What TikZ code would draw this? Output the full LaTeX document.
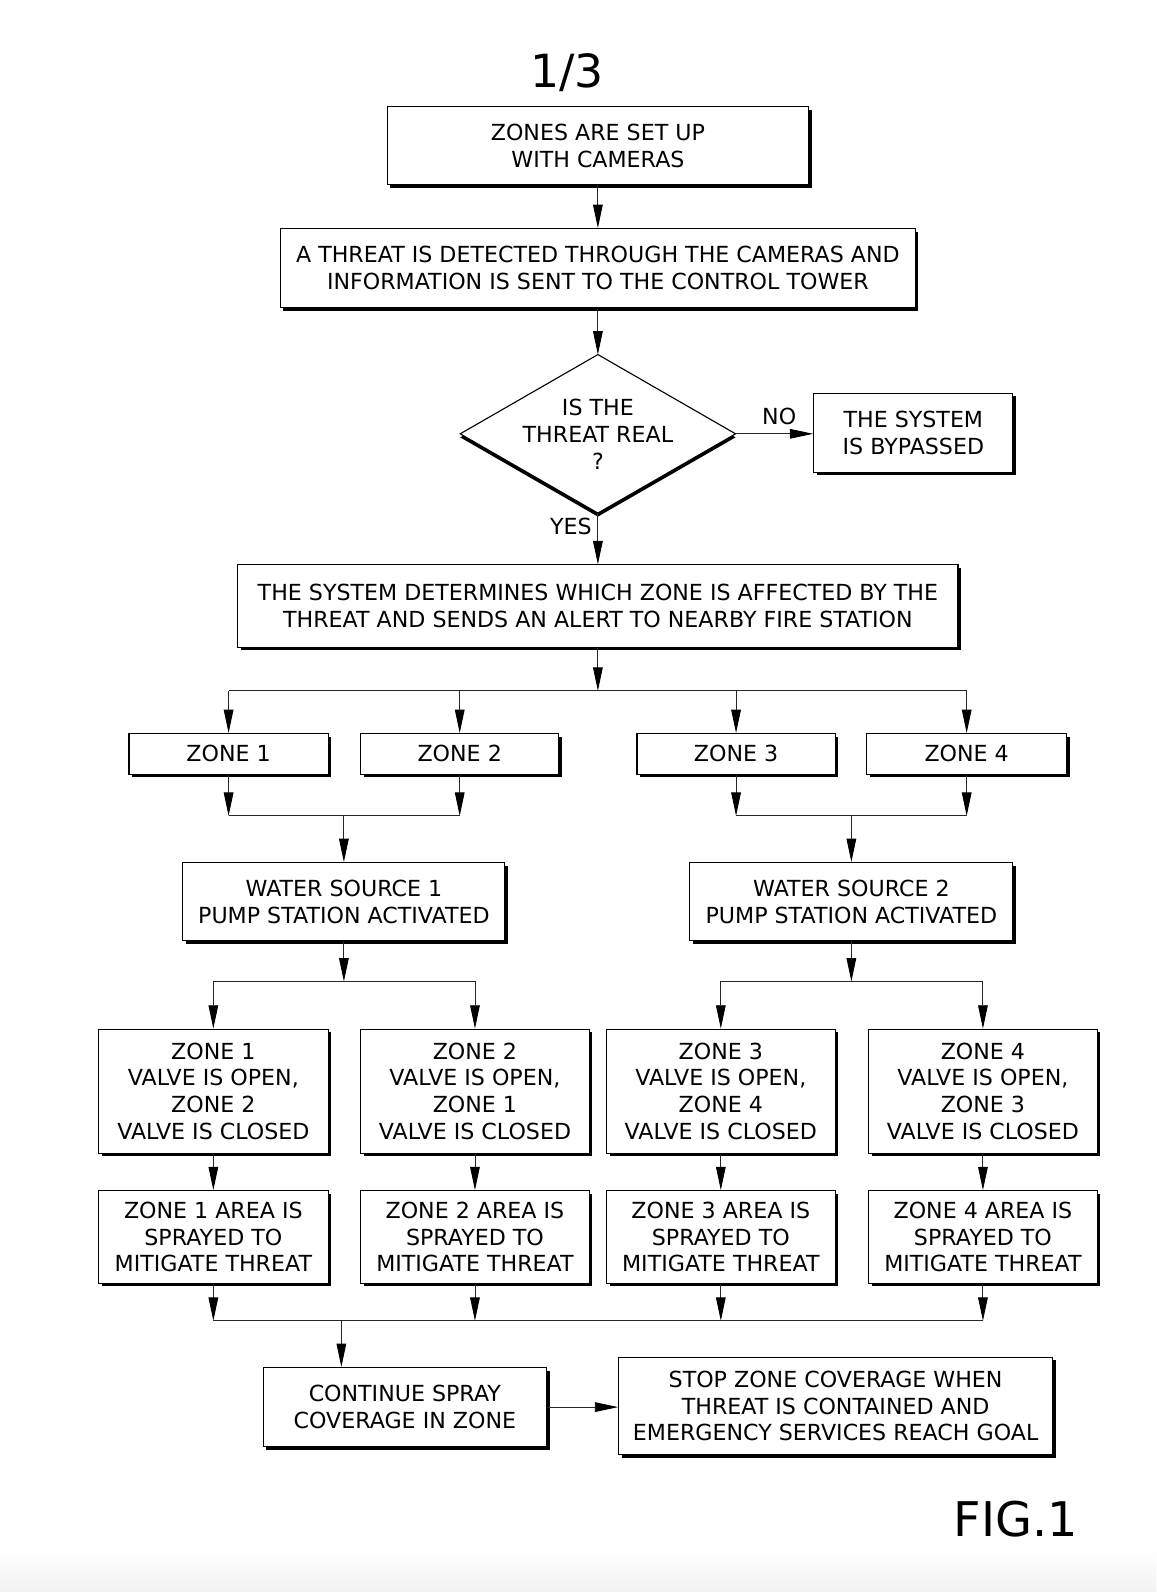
\documentclass[tikz,border=0pt]{standalone}
\usepackage{fontspec}
\setmainfont{DejaVu Sans}
\usetikzlibrary{arrows.meta,shapes.geometric,shadows,calc}
\begin{document}
\begin{tikzpicture}[x=1pt,y=-1pt,
  txt/.style={font=\fontsize{21.8}{26.3}\selectfont},
  box/.style={txt, draw=black, line width=1.1pt, fill=white, align=center, inner sep=0pt,
    drop shadow={shadow xshift=3pt, shadow yshift=-3pt, fill=black, opacity=1}},
  conn/.style={line width=0.9pt, draw=black!85},
  arr/.style={conn, -{Triangle[length=23pt,width=9.5pt,fill=black,color=black]}}
]
\useasboundingbox (0,0) rectangle (1138,1567);
\shade[top color=white, bottom color=black!5, draw=none] (0,1525) rectangle (1138,1567);

\node[font=\fontsize{45}{50}\selectfont] (title) at (558,72) {1/3};

\node[box, minimum width=415pt, minimum height=77pt] (a) at (588.5,143.5) {ZONES ARE SET UP\\WITH CAMERAS};
\node[box, minimum width=625pt, minimum height=78pt] (b) at (588.5,264) {A THREAT IS DETECTED THROUGH THE CAMERAS AND\\INFORMATION IS SENT TO THE CONTROL TOWER};

% decision diamond
\coordinate (dtop) at (588.5,349);
\coordinate (dright) at (724,427);
\coordinate (dbot) at (588.5,505);
\coordinate (dleft) at (453,427);
\path[draw=black, line width=1.1pt, fill=white,
  drop shadow={shadow xshift=0pt, shadow yshift=-3.5pt, fill=black, opacity=1}]
  (dtop) -- (dright) -- (dbot) -- (dleft) -- cycle;
\node[txt, align=center, inner sep=0pt] (d) at (588.5,427.5) {IS THE\\THREAT REAL\\?};

\node[box, minimum width=196pt, minimum height=78pt] (byp) at (899,426) {THE SYSTEM\\IS BYPASSED};
\node[box, minimum width=709pt, minimum height=81pt] (c) at (588.5,596.5) {THE SYSTEM DETERMINES WHICH ZONE IS AFFECTED BY THE\\THREAT AND SENDS AN ALERT TO NEARBY FIRE STATION};

\node[box, minimum width=196pt, minimum height=40pt] (z1) at (225,742) {ZONE 1};
\node[box, minimum width=195pt, minimum height=40pt] (z2) at (452.5,742) {ZONE 2};
\node[box, minimum width=195pt, minimum height=40pt] (z3) at (724.5,742) {ZONE 3};
\node[box, minimum width=197pt, minimum height=40pt] (z4) at (951.5,742) {ZONE 4};

\node[box, minimum width=317pt, minimum height=77pt] (w1) at (338.5,887.5) {WATER SOURCE 1\\PUMP STATION ACTIVATED};
\node[box, minimum width=318pt, minimum height=77pt] (w2) at (838,887.5) {WATER SOURCE 2\\PUMP STATION ACTIVATED};

\node[box, minimum width=226pt, minimum height=122pt] (v1) at (210,1074) {ZONE 1\\VALVE IS OPEN,\\ZONE 2\\VALVE IS CLOSED};
\node[box, minimum width=225pt, minimum height=122pt] (v2) at (467.5,1074) {ZONE 2\\VALVE IS OPEN,\\ZONE 1\\VALVE IS CLOSED};
\node[box, minimum width=225pt, minimum height=122pt] (v3) at (709.5,1074) {ZONE 3\\VALVE IS OPEN,\\ZONE 4\\VALVE IS CLOSED};
\node[box, minimum width=225pt, minimum height=122pt] (v4) at (967.5,1074) {ZONE 4\\VALVE IS OPEN,\\ZONE 3\\VALVE IS CLOSED};

\node[box, minimum width=226pt, minimum height=91pt] (s1) at (210,1217.5) {ZONE 1 AREA IS\\SPRAYED TO\\MITIGATE THREAT};
\node[box, minimum width=225pt, minimum height=91pt] (s2) at (467.5,1217.5) {ZONE 2 AREA IS\\SPRAYED TO\\MITIGATE THREAT};
\node[box, minimum width=225pt, minimum height=91pt] (s3) at (709.5,1217.5) {ZONE 3 AREA IS\\SPRAYED TO\\MITIGATE THREAT};
\node[box, minimum width=225pt, minimum height=91pt] (s4) at (967.5,1217.5) {ZONE 4 AREA IS\\SPRAYED TO\\MITIGATE THREAT};

\node[box, minimum width=279pt, minimum height=78pt] (cont) at (398.5,1385) {CONTINUE SPRAY\\COVERAGE IN ZONE};
\node[box, minimum width=427pt, minimum height=96pt] (stop) at (822.5,1384) {STOP ZONE COVERAGE WHEN\\THREAT IS CONTAINED AND\\EMERGENCY SERVICES REACH GOAL};

\node[font=\fontsize{47}{52}\selectfont] (fig) at (1000,1495) {FIG.1};

\node[txt] (no) at (767,410) {NO};
\node[txt] (yes) at (562,518) {YES};

% connectors
\draw[arr] (a) -- (b);
\draw[arr] (b.south) -- (dtop);
\draw[arr] (dright) -- (dright -| byp.west);
\draw[arr] (dbot) -- (c.north);

\coordinate (j1) at (588.5,680);
\draw[arr] (c.south) -- (j1);
\draw[conn] (z1.north |- j1) -- (z4.north |- j1);
\foreach \z in {z1,z2,z3,z4} \draw[arr] (\z.north |- j1) -- (\z.north);

\coordinate (m1) at (338.5,803);
\coordinate (m2) at (838,803);
\draw[arr] (z1.south) -- (z1.south |- m1);
\draw[arr] (z2.south) -- (z2.south |- m1);
\draw[arr] (z3.south) -- (z3.south |- m2);
\draw[arr] (z4.south) -- (z4.south |- m2);
\draw[conn] (z1.south |- m1) -- (z2.south |- m1);
\draw[conn] (z3.south |- m2) -- (z4.south |- m2);
\draw[arr] (m1) -- (w1.north);
\draw[arr] (m2) -- (w2.north);

\coordinate (n1) at (338.5,966);
\coordinate (n2) at (838,966);
\draw[arr] (w1.south) -- (n1);
\draw[arr] (w2.south) -- (n2);
\draw[conn] (v1.north |- n1) -- (v2.north |- n1);
\draw[conn] (v3.north |- n2) -- (v4.north |- n2);
\draw[arr] (v1.north |- n1) -- (v1.north);
\draw[arr] (v2.north |- n1) -- (v2.north);
\draw[arr] (v3.north |- n2) -- (v3.north);
\draw[arr] (v4.north |- n2) -- (v4.north);

\draw[arr] (v1) -- (s1);
\draw[arr] (v2) -- (s2);
\draw[arr] (v3) -- (s3);
\draw[arr] (v4) -- (s4);

\coordinate (k) at (336,1300);
\foreach \s in {s1,s2,s3,s4} \draw[arr] (\s.south) -- (\s.south |- k);
\draw[conn] (s1.south |- k) -- (s4.south |- k);
\draw[arr] (k) -- (k |- cont.north);
\draw[arr] (cont.east) -- (cont.east -| stop.west);
\end{tikzpicture}
\end{document}
